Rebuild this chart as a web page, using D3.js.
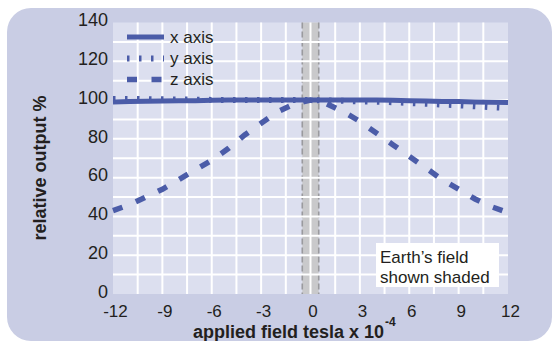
<!DOCTYPE html>
<html>
<head>
<meta charset="utf-8">
<script src="https://cdn.jsdelivr.net/npm/d3@7/dist/d3.min.js"></script>
<style>
  html, body { margin: 0; padding: 0; background: #ffffff; }
  svg { display: block; font-family: Arial, "Liberation Sans", sans-serif; }
</style>
</head>
<body>
<svg id="chart" width="552" height="341"></svg>
<script>
// Applied field, tesla x 10^-4
const field = [-12, -11, -10, -9, -8, -7, -6, -5, -4, -3, -2, -1, 0, 1, 2, 3, 4, 5, 6, 7, 8, 9, 10, 11, 12];
// Relative output (%) of each sensor axis
const xAxisOutput = [99.0, 99.2, 99.4, 99.5, 99.6, 99.7, 99.9, 100, 100, 100, 100, 100, 100, 100, 100, 100, 100, 99.9, 99.7, 99.5, 99.3, 99.2, 99.0, 98.9, 98.7];
const yAxisOutput = [100.6, 100.6, 100.5, 100.4, 100.3, 100.2, 100.1, 100, 100, 100, 100, 100, 100, 99.8, 99.6, 99.3, 99.2, 98.9, 98.5, 98.1, 97.7, 97.3, 96.8, 96.3, 95.9];
const zAxisOutput = [43, 46, 50, 54, 59, 64, 69, 75, 82, 88, 94, 98, 100, 98, 94, 89, 83, 77, 71, 65, 59, 54, 49, 45, 42];
const seriesNames = ["x axis", "y axis", "z axis"];
// Earth's field band, tesla x 10^-4
const earthField = [-0.5, 0.5];
const xTicks = [-12, -9, -6, -3, 0, 3, 6, 9, 12];
const yTicks = [0, 20, 40, 60, 80, 100, 120, 140];

const svg = d3.select("#chart");
const lineColor = "#4b5ca8";
const textColor = "#231f20";

const x = d3.scaleLinear().domain([-12, 12]).range([113, 508]);
const y = d3.scaleLinear().domain([0, 140]).range([294, 22.5]);

// outer panel
svg.append("rect")
  .attr("x", 7).attr("y", 8).attr("width", 545).attr("height", 333)
  .attr("rx", 24).attr("ry", 24)
  .attr("fill", "#c9cde4");

// plot area
svg.append("rect")
  .attr("x", x(-12)).attr("y", y(140))
  .attr("width", x(12) - x(-12)).attr("height", y(0) - y(140))
  .attr("fill", "#dcdfef");

// Earth's field shading
svg.append("rect")
  .attr("x", x(earthField[0])).attr("y", y(140))
  .attr("width", x(earthField[1]) - x(earthField[0])).attr("height", y(0) - y(140))
  .attr("fill", "#c9c9cb");
svg.selectAll("line.band")
  .data(earthField)
  .join("line")
  .attr("class", "band")
  .attr("x1", d => x(d)).attr("x2", d => x(d))
  .attr("y1", y(140)).attr("y2", y(0))
  .attr("stroke", "#9a9a9e").attr("stroke-width", 1.6)
  .attr("stroke-dasharray", "6,3");

// grid
const vGrid = d3.range(-10.5, 12, 1.5);
const hGrid = d3.range(10, 140, 10);
svg.append("g").selectAll("line")
  .data(vGrid)
  .join("line")
  .attr("x1", d => x(d)).attr("x2", d => x(d))
  .attr("y1", y(140)).attr("y2", y(0))
  .attr("stroke", "#ffffff").attr("stroke-width", 2);
svg.append("g").selectAll("line")
  .data(hGrid)
  .join("line")
  .attr("x1", x(-12)).attr("x2", x(12))
  .attr("y1", d => y(d)).attr("y2", d => y(d))
  .attr("stroke", "#ffffff").attr("stroke-width", 2);

// series
const styles = [
  { dash: null, width: 5 },
  { dash: "2.5,9.5", width: 6 },
  { dash: "10,14.5", width: 5.5 }
];
const seriesData = [xAxisOutput, yAxisOutput, zAxisOutput];
const line = d3.line().x((d, i) => x(field[i])).y(d => y(d));

seriesData.forEach((vals, k) => {
  svg.append("path")
    .datum(vals)
    .attr("d", line)
    .attr("fill", "none")
    .attr("stroke", lineColor)
    .attr("stroke-width", styles[k].width)
    .attr("stroke-dasharray", styles[k].dash);
});

// legend
const legend = svg.append("g");
const legendRows = [37, 58.5, 79.5];
seriesNames.forEach((name, k) => {
  legend.append("line")
    .attr("x1", 127).attr("x2", 164)
    .attr("y1", legendRows[k]).attr("y2", legendRows[k])
    .attr("stroke", lineColor)
    .attr("stroke-width", styles[k].width)
    .attr("stroke-dasharray", styles[k].dash);
  legend.append("text")
    .attr("x", 170).attr("y", legendRows[k]).attr("dy", "0.35em")
    .attr("font-size", 17).attr("fill", textColor)
    .text(name);
});

// y axis labels
svg.append("g").selectAll("text")
  .data(yTicks)
  .join("text")
  .attr("x", 108).attr("y", d => y(d) - 2.5).attr("dy", "0.35em")
  .attr("text-anchor", "end")
  .attr("font-size", 18).attr("fill", textColor)
  .text(d => d);

// x axis labels
svg.append("g").selectAll("text")
  .data(xTicks)
  .join("text")
  .attr("x", d => x(d) + 2.5).attr("y", 317.3)
  .attr("text-anchor", "middle")
  .attr("font-size", 17).attr("fill", textColor)
  .text(d => d);

// axis titles
svg.append("text")
  .attr("transform", "translate(46,168) rotate(-90)")
  .attr("text-anchor", "middle")
  .attr("font-size", 18).attr("font-weight", "bold").attr("fill", textColor)
  .text("relative output %");

const xTitle = svg.append("text")
  .attr("x", 193).attr("y", 337.5)
  .attr("font-size", 18).attr("font-weight", "bold").attr("fill", textColor)
  .text("applied field tesla x 10");
const titleEnd = 193 + xTitle.node().getComputedTextLength();
svg.append("text")
  .attr("x", titleEnd + 1).attr("y", 326)
  .attr("font-size", 12).attr("font-weight", "bold").attr("fill", textColor)
  .text("-4");

// annotation box
svg.append("rect")
  .attr("x", 376).attr("y", 243).attr("width", 123).attr("height", 44)
  .attr("fill", "#ffffff");
const note = svg.append("text")
  .attr("font-size", 17).attr("fill", textColor);
note.append("tspan").attr("x", 380).attr("y", 263).text("Earth\u2019s field");
note.append("tspan").attr("x", 380).attr("y", 283).text("shown shaded");
</script>
</body>
</html>
